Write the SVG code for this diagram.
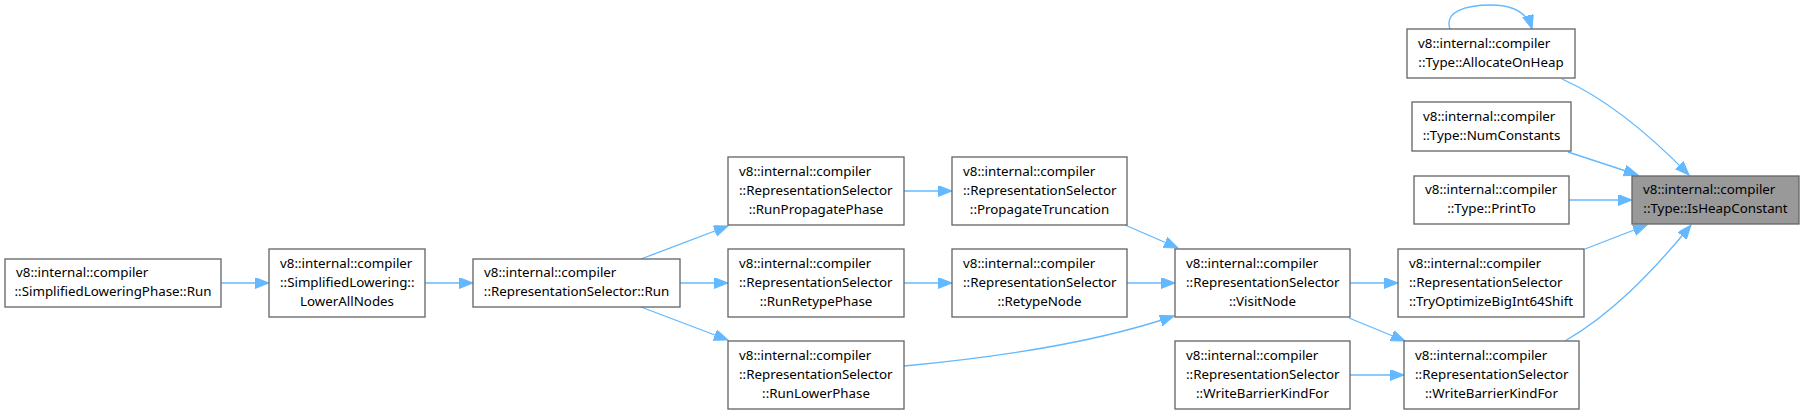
<svg xmlns="http://www.w3.org/2000/svg" width="1804" height="414" viewBox="0 0 1804 414">
<style>
.n rect{fill:#ffffff;stroke:#666666;stroke-width:1.33}
.n.hl rect{fill:#999999}
.n text{font-family:"Noto Sans","Open Sans",sans-serif;font-size:13.33px;fill:#000000}
.s{text-anchor:start}
.m{text-anchor:middle}
.e path{fill:none;stroke:#63b8ff;stroke-width:1.33;marker-end:url(#ah)}
</style>
<defs>
<marker id="ah" markerUnits="userSpaceOnUse" markerWidth="16" markerHeight="12" refX="14" refY="5.5" orient="auto">
<path d="M0,0 L14,5.5 L0,11 Z" fill="#63b8ff" stroke="#63b8ff" stroke-width="1"/>
</marker>
</defs>
<rect width="1804" height="414" fill="#ffffff"/>
<g id="edges" class="e">
<path d="M221,283 L269,283"/>
<path d="M425,283 L473,283"/>
<path d="M641,259 L728,226"/>
<path d="M680,283 L728,283"/>
<path d="M641,307 L728,340"/>
<path d="M904,191 L952,191"/>
<path d="M904,283 L952,283"/>
<path d="M1125,225 L1178,248"/>
<path d="M1127,283 L1175,283"/>
<path d="M904,366 C990,358 1095,343 1174,316"/>
<path d="M1350,283 L1398,283"/>
<path d="M1349,318 L1405,341"/>
<path d="M1350,375 L1404,375"/>
<path d="M1450,29 C1444,12 1465,5 1491,5 C1513,5 1527,12 1532,29"/>
<path d="M1562,79 C1605,98 1650,135 1689,175"/>
<path d="M1568,152 L1638,175"/>
<path d="M1569,200 L1632,200"/>
<path d="M1585,249 L1647,225"/>
<path d="M1565,341 C1610,315 1650,275 1691,225"/>
</g>
<g id="n_slp_run" class="n">
<rect x="5" y="259" width="216" height="48"/>
<text class="s" x="16" y="277">v8::internal::compiler</text>
<text class="m" x="113" y="296">::SimplifiedLoweringPhase::Run</text>
</g>
<g id="n_lowerallnodes" class="n">
<rect x="269" y="249" width="156" height="68"/>
<text class="s" x="280" y="267.5">v8::internal::compiler</text>
<text class="s" x="280" y="286.5">::SimplifiedLowering::</text>
<text class="m" x="347" y="305.5">LowerAllNodes</text>
</g>
<g id="n_rs_run" class="n">
<rect x="473" y="259" width="207" height="48"/>
<text class="s" x="484" y="277">v8::internal::compiler</text>
<text class="m" x="576.5" y="296">::RepresentationSelector::Run</text>
</g>
<g id="n_runpropagatephase" class="n">
<rect x="728" y="157" width="176" height="68"/>
<text class="s" x="739" y="175.5">v8::internal::compiler</text>
<text class="s" x="739" y="194.5">::RepresentationSelector</text>
<text class="m" x="816" y="213.5">::RunPropagatePhase</text>
</g>
<g id="n_runretypephase" class="n">
<rect x="728" y="249" width="176" height="68"/>
<text class="s" x="739" y="267.5">v8::internal::compiler</text>
<text class="s" x="739" y="286.5">::RepresentationSelector</text>
<text class="m" x="816" y="305.5">::RunRetypePhase</text>
</g>
<g id="n_runlowerphase" class="n">
<rect x="728" y="341" width="176" height="68"/>
<text class="s" x="739" y="359.5">v8::internal::compiler</text>
<text class="s" x="739" y="378.5">::RepresentationSelector</text>
<text class="m" x="816" y="397.5">::RunLowerPhase</text>
</g>
<g id="n_propagatetruncation" class="n">
<rect x="952" y="157" width="175" height="68"/>
<text class="s" x="963" y="175.5">v8::internal::compiler</text>
<text class="s" x="963" y="194.5">::RepresentationSelector</text>
<text class="m" x="1039.5" y="213.5">::PropagateTruncation</text>
</g>
<g id="n_retypenode" class="n">
<rect x="952" y="249" width="175" height="68"/>
<text class="s" x="963" y="267.5">v8::internal::compiler</text>
<text class="s" x="963" y="286.5">::RepresentationSelector</text>
<text class="m" x="1039.5" y="305.5">::RetypeNode</text>
</g>
<g id="n_visitnode" class="n">
<rect x="1175" y="249" width="175" height="68"/>
<text class="s" x="1186" y="267.5">v8::internal::compiler</text>
<text class="s" x="1186" y="286.5">::RepresentationSelector</text>
<text class="m" x="1262.5" y="305.5">::VisitNode</text>
</g>
<g id="n_wbkf_left" class="n">
<rect x="1175" y="341" width="175" height="68"/>
<text class="s" x="1186" y="359.5">v8::internal::compiler</text>
<text class="s" x="1186" y="378.5">::RepresentationSelector</text>
<text class="m" x="1262.5" y="397.5">::WriteBarrierKindFor</text>
</g>
<g id="n_tryoptimize" class="n">
<rect x="1398" y="249" width="186" height="68"/>
<text class="s" x="1409" y="267.5">v8::internal::compiler</text>
<text class="s" x="1409" y="286.5">::RepresentationSelector</text>
<text class="m" x="1491" y="305.5">::TryOptimizeBigInt64Shift</text>
</g>
<g id="n_wbkf_right" class="n">
<rect x="1404" y="341" width="175" height="68"/>
<text class="s" x="1415" y="359.5">v8::internal::compiler</text>
<text class="s" x="1415" y="378.5">::RepresentationSelector</text>
<text class="m" x="1491.5" y="397.5">::WriteBarrierKindFor</text>
</g>
<g id="n_allocateonheap" class="n">
<rect x="1407" y="29" width="168" height="49"/>
<text class="s" x="1418" y="47.5">v8::internal::compiler</text>
<text class="m" x="1491" y="66.5">::Type::AllocateOnHeap</text>
</g>
<g id="n_numconstants" class="n">
<rect x="1412" y="102" width="159" height="49"/>
<text class="s" x="1423" y="120.5">v8::internal::compiler</text>
<text class="m" x="1491.5" y="139.5">::Type::NumConstants</text>
</g>
<g id="n_printto" class="n">
<rect x="1414" y="176" width="155" height="48"/>
<text class="s" x="1425" y="194">v8::internal::compiler</text>
<text class="m" x="1491.5" y="213">::Type::PrintTo</text>
</g>
<g id="n_isheapconstant" class="n hl">
<rect x="1632" y="176" width="167" height="48"/>
<text class="s" x="1643" y="194">v8::internal::compiler</text>
<text class="m" x="1715.5" y="213">::Type::IsHeapConstant</text>
</g>
</svg>
